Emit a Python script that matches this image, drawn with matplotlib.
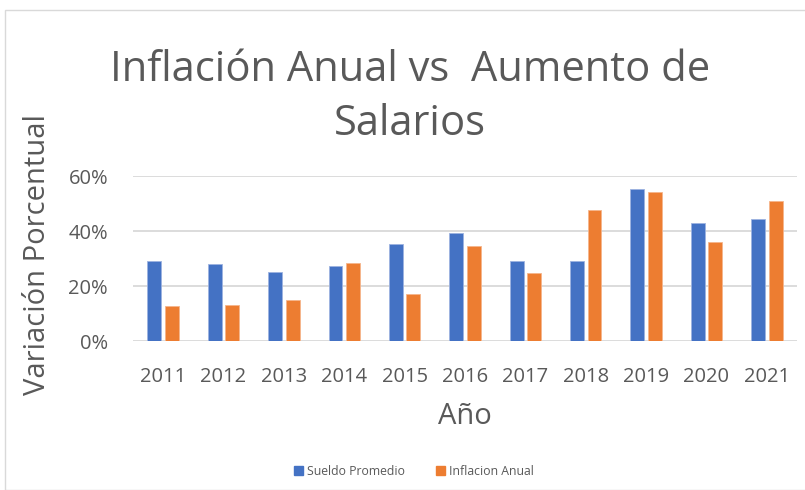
import matplotlib
matplotlib.use("Agg")
import matplotlib.pyplot as plt
import numpy as np
from matplotlib.patches import Rectangle, Patch
from matplotlib.ticker import PercentFormatter

years = ["2011", "2012", "2013", "2014", "2015", "2016", "2017", "2018", "2019", "2020", "2021"]
sueldo = [29.2, 28.0, 25.0, 27.2, 35.2, 39.2, 29.2, 29.2, 55.2, 43.0, 44.3]
inflacion = [12.7, 13.1, 14.8, 28.2, 17.2, 34.5, 24.6, 47.6, 54.1, 36.1, 51.0]

blue = "#4472C4"
orange = "#ED7D31"
txt = "#595959"

plt.rcParams['font.family'] = ['Open Sans', 'DejaVu Sans']

fig = plt.figure(figsize=(8.05, 4.90), dpi=100)
fig.patches.append(Rectangle((5/805, 0), 1.2, 1 - 10/490, transform=fig.transFigure,
                             fill=False, edgecolor="#d9d9d9", linewidth=1))
ax = fig.add_axes([133/805, 1 - 341/490, (797-133)/805, (341-176)/490])

x = np.arange(len(years))
w = 0.23
off = 0.145
ax.bar(x - off, sueldo, w, color=blue, edgecolor="#9db3e0", linewidth=0.6, label="Sueldo Promedio", zorder=3)
ax.bar(x + off, inflacion, w, color=orange, edgecolor="#f5b58c", linewidth=0.6, label="Inflacion Anual", zorder=3)

ax.set_xlim(-0.5, len(years) - 0.5)
ax.set_ylim(0, 60)
ax.set_yticks([0, 20, 40, 60])
ax.yaxis.set_major_formatter(PercentFormatter(decimals=0))
ax.grid(axis="y", color="#d9d9d9", linewidth=1.3, zorder=0)
for s in ax.spines.values():
    s.set_visible(False)
ax.tick_params(axis="y", length=0, pad=18, labelsize=14.5, labelcolor=txt)
ax.tick_params(axis="x", length=0, pad=19, labelsize=14.5, labelcolor=txt)
ax.set_xticks(x)
ax.set_xticklabels(years)

fig.text(0.047, 1 - 255/490, "Variación Porcentual", rotation=90, ha="center", va="center",
         fontsize=21, color=txt)
fig.text(465/805, 1 - 416/490, "Año", ha="center", va="center", fontsize=21, color=txt)
fig.text(410/805, 1 - 97/490, "Inflación Anual vs  Aumento de\nSalarios", ha="center", va="center",
         fontsize=30, color=txt, linespacing=1.4)

handles = [Patch(color=blue), Patch(color=orange)]
fig.legend(handles, ["Sueldo Promedio", "Inflacion Anual"], loc="center",
           bbox_to_anchor=(414/805, 1 - 471/490), ncol=2, frameon=False, fontsize=8.8,
           labelcolor=txt, handlelength=0.7, handleheight=0.7, handletextpad=0.3, columnspacing=2.6)

fig.savefig("out.png", dpi=100)
